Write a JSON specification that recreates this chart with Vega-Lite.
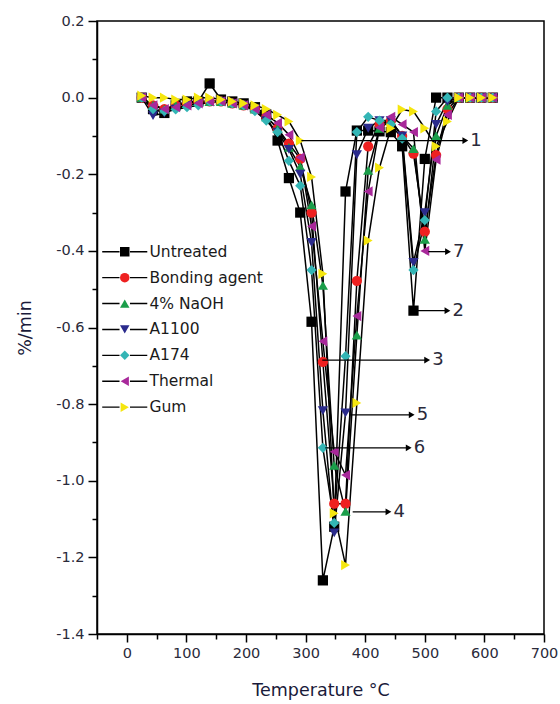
{
  "$schema": "https://vega.github.io/schema/vega-lite/v6.json",
  "width": 447,
  "height": 613,
  "autosize": {"type": "none"},
  "padding": {"left": 97, "top": 21, "right": 16, "bottom": 70},
  "background": "white",
  "config": {
    "view": {"stroke": "black", "strokeWidth": 1.5},
    "font": "DejaVu Sans",
    "axis": {"grid": false, "domainColor": "black", "domainWidth": 1.5, "tickColor": "black", "tickWidth": 1.5, "labelFontSize": 14.5, "labelColor": "#2a2a3a", "titleFontSize": 17.5, "titleFontWeight": "normal", "titleColor": "#1a1a3a"}
  },
  "datasets": {
    "dtg": [
      {"series":"Untreated","temperature":25,"rate":0},{"series":"Untreated","temperature":44,"rate":-0.03},{"series":"Untreated","temperature":63,"rate":-0.04},{"series":"Untreated","temperature":82,"rate":-0.02},{"series":"Untreated","temperature":101,"rate":-0.01},{"series":"Untreated","temperature":120,"rate":-0.01},{"series":"Untreated","temperature":139,"rate":0.037},{"series":"Untreated","temperature":158,"rate":-0.005},{"series":"Untreated","temperature":177,"rate":-0.01},{"series":"Untreated","temperature":196,"rate":-0.015},{"series":"Untreated","temperature":215,"rate":-0.025},{"series":"Untreated","temperature":234,"rate":-0.044},{"series":"Untreated","temperature":253,"rate":-0.112},{"series":"Untreated","temperature":272,"rate":-0.21},{"series":"Untreated","temperature":291,"rate":-0.3},{"series":"Untreated","temperature":310,"rate":-0.585},{"series":"Untreated","temperature":329,"rate":-1.26},{"series":"Untreated","temperature":348,"rate":-1.12},{"series":"Untreated","temperature":367,"rate":-0.245},{"series":"Untreated","temperature":386,"rate":-0.086},{"series":"Untreated","temperature":405,"rate":-0.086},{"series":"Untreated","temperature":424,"rate":-0.088},{"series":"Untreated","temperature":443,"rate":-0.09},{"series":"Untreated","temperature":462,"rate":-0.127},{"series":"Untreated","temperature":481,"rate":-0.556},{"series":"Untreated","temperature":500,"rate":-0.16},{"series":"Untreated","temperature":519,"rate":0},{"series":"Untreated","temperature":538,"rate":0},{"series":"Untreated","temperature":557,"rate":0},{"series":"Untreated","temperature":576,"rate":0},{"series":"Untreated","temperature":595,"rate":0},{"series":"Untreated","temperature":614,"rate":0},
      {"series":"Bonding agent","temperature":25,"rate":0},{"series":"Bonding agent","temperature":44,"rate":-0.02},{"series":"Bonding agent","temperature":63,"rate":-0.03},{"series":"Bonding agent","temperature":82,"rate":-0.02},{"series":"Bonding agent","temperature":101,"rate":-0.015},{"series":"Bonding agent","temperature":120,"rate":-0.01},{"series":"Bonding agent","temperature":139,"rate":-0.01},{"series":"Bonding agent","temperature":158,"rate":-0.01},{"series":"Bonding agent","temperature":177,"rate":-0.015},{"series":"Bonding agent","temperature":196,"rate":-0.02},{"series":"Bonding agent","temperature":215,"rate":-0.03},{"series":"Bonding agent","temperature":234,"rate":-0.05},{"series":"Bonding agent","temperature":253,"rate":-0.08},{"series":"Bonding agent","temperature":272,"rate":-0.12},{"series":"Bonding agent","temperature":291,"rate":-0.16},{"series":"Bonding agent","temperature":310,"rate":-0.3},{"series":"Bonding agent","temperature":329,"rate":-0.69},{"series":"Bonding agent","temperature":348,"rate":-1.06},{"series":"Bonding agent","temperature":367,"rate":-1.06},{"series":"Bonding agent","temperature":386,"rate":-0.478},{"series":"Bonding agent","temperature":405,"rate":-0.127},{"series":"Bonding agent","temperature":424,"rate":-0.07},{"series":"Bonding agent","temperature":443,"rate":-0.06},{"series":"Bonding agent","temperature":462,"rate":-0.1},{"series":"Bonding agent","temperature":481,"rate":-0.146},{"series":"Bonding agent","temperature":500,"rate":-0.35},{"series":"Bonding agent","temperature":519,"rate":-0.15},{"series":"Bonding agent","temperature":538,"rate":-0.03},{"series":"Bonding agent","temperature":557,"rate":0},{"series":"Bonding agent","temperature":576,"rate":0},{"series":"Bonding agent","temperature":595,"rate":0},{"series":"Bonding agent","temperature":614,"rate":0},
      {"series":"4% NaOH","temperature":25,"rate":0},{"series":"4% NaOH","temperature":44,"rate":-0.02},{"series":"4% NaOH","temperature":63,"rate":-0.03},{"series":"4% NaOH","temperature":82,"rate":-0.02},{"series":"4% NaOH","temperature":101,"rate":-0.015},{"series":"4% NaOH","temperature":120,"rate":-0.01},{"series":"4% NaOH","temperature":139,"rate":-0.01},{"series":"4% NaOH","temperature":158,"rate":-0.01},{"series":"4% NaOH","temperature":177,"rate":-0.015},{"series":"4% NaOH","temperature":196,"rate":-0.02},{"series":"4% NaOH","temperature":215,"rate":-0.03},{"series":"4% NaOH","temperature":234,"rate":-0.05},{"series":"4% NaOH","temperature":253,"rate":-0.08},{"series":"4% NaOH","temperature":272,"rate":-0.13},{"series":"4% NaOH","temperature":291,"rate":-0.18},{"series":"4% NaOH","temperature":310,"rate":-0.28},{"series":"4% NaOH","temperature":329,"rate":-0.49},{"series":"4% NaOH","temperature":348,"rate":-0.96},{"series":"4% NaOH","temperature":367,"rate":-1.08},{"series":"4% NaOH","temperature":386,"rate":-0.62},{"series":"4% NaOH","temperature":405,"rate":-0.19},{"series":"4% NaOH","temperature":424,"rate":-0.08},{"series":"4% NaOH","temperature":443,"rate":-0.06},{"series":"4% NaOH","temperature":462,"rate":-0.1},{"series":"4% NaOH","temperature":481,"rate":-0.133},{"series":"4% NaOH","temperature":500,"rate":-0.37},{"series":"4% NaOH","temperature":519,"rate":-0.1},{"series":"4% NaOH","temperature":538,"rate":-0.02},{"series":"4% NaOH","temperature":557,"rate":0},{"series":"4% NaOH","temperature":576,"rate":0},{"series":"4% NaOH","temperature":595,"rate":0},{"series":"4% NaOH","temperature":614,"rate":0},
      {"series":"A1100","temperature":25,"rate":0},{"series":"A1100","temperature":44,"rate":-0.047},{"series":"A1100","temperature":63,"rate":-0.04},{"series":"A1100","temperature":82,"rate":-0.03},{"series":"A1100","temperature":101,"rate":-0.02},{"series":"A1100","temperature":120,"rate":-0.015},{"series":"A1100","temperature":139,"rate":-0.01},{"series":"A1100","temperature":158,"rate":-0.01},{"series":"A1100","temperature":177,"rate":-0.015},{"series":"A1100","temperature":196,"rate":-0.02},{"series":"A1100","temperature":215,"rate":-0.03},{"series":"A1100","temperature":234,"rate":-0.06},{"series":"A1100","temperature":253,"rate":-0.09},{"series":"A1100","temperature":272,"rate":-0.135},{"series":"A1100","temperature":291,"rate":-0.2},{"series":"A1100","temperature":310,"rate":-0.378},{"series":"A1100","temperature":329,"rate":-0.817},{"series":"A1100","temperature":348,"rate":-1.136},{"series":"A1100","temperature":367,"rate":-0.823},{"series":"A1100","temperature":386,"rate":-0.149},{"series":"A1100","temperature":405,"rate":-0.08},{"series":"A1100","temperature":424,"rate":-0.06},{"series":"A1100","temperature":443,"rate":-0.06},{"series":"A1100","temperature":462,"rate":-0.1},{"series":"A1100","temperature":481,"rate":-0.43},{"series":"A1100","temperature":500,"rate":-0.3},{"series":"A1100","temperature":519,"rate":-0.07},{"series":"A1100","temperature":538,"rate":-0.01},{"series":"A1100","temperature":557,"rate":0},{"series":"A1100","temperature":576,"rate":0},{"series":"A1100","temperature":595,"rate":0},{"series":"A1100","temperature":614,"rate":0},
      {"series":"A174","temperature":25,"rate":0},{"series":"A174","temperature":44,"rate":-0.03},{"series":"A174","temperature":63,"rate":-0.035},{"series":"A174","temperature":82,"rate":-0.031},{"series":"A174","temperature":101,"rate":-0.025},{"series":"A174","temperature":120,"rate":-0.02},{"series":"A174","temperature":139,"rate":-0.01},{"series":"A174","temperature":158,"rate":-0.01},{"series":"A174","temperature":177,"rate":-0.015},{"series":"A174","temperature":196,"rate":-0.02},{"series":"A174","temperature":215,"rate":-0.035},{"series":"A174","temperature":234,"rate":-0.06},{"series":"A174","temperature":253,"rate":-0.09},{"series":"A174","temperature":272,"rate":-0.165},{"series":"A174","temperature":291,"rate":-0.23},{"series":"A174","temperature":310,"rate":-0.45},{"series":"A174","temperature":329,"rate":-0.914},{"series":"A174","temperature":348,"rate":-1.11},{"series":"A174","temperature":367,"rate":-0.675},{"series":"A174","temperature":386,"rate":-0.09},{"series":"A174","temperature":405,"rate":-0.05},{"series":"A174","temperature":424,"rate":-0.06},{"series":"A174","temperature":443,"rate":-0.07},{"series":"A174","temperature":462,"rate":-0.107},{"series":"A174","temperature":481,"rate":-0.45},{"series":"A174","temperature":500,"rate":-0.32},{"series":"A174","temperature":519,"rate":-0.036},{"series":"A174","temperature":538,"rate":0},{"series":"A174","temperature":557,"rate":0},{"series":"A174","temperature":576,"rate":0},{"series":"A174","temperature":595,"rate":0},{"series":"A174","temperature":614,"rate":0},
      {"series":"Thermal","temperature":25,"rate":0},{"series":"Thermal","temperature":44,"rate":-0.02},{"series":"Thermal","temperature":63,"rate":-0.03},{"series":"Thermal","temperature":82,"rate":-0.025},{"series":"Thermal","temperature":101,"rate":-0.02},{"series":"Thermal","temperature":120,"rate":-0.015},{"series":"Thermal","temperature":139,"rate":-0.01},{"series":"Thermal","temperature":158,"rate":-0.01},{"series":"Thermal","temperature":177,"rate":-0.015},{"series":"Thermal","temperature":196,"rate":-0.02},{"series":"Thermal","temperature":215,"rate":-0.03},{"series":"Thermal","temperature":234,"rate":-0.045},{"series":"Thermal","temperature":253,"rate":-0.066},{"series":"Thermal","temperature":272,"rate":-0.097},{"series":"Thermal","temperature":291,"rate":-0.156},{"series":"Thermal","temperature":310,"rate":-0.336},{"series":"Thermal","temperature":329,"rate":-0.636},{"series":"Thermal","temperature":348,"rate":-0.924},{"series":"Thermal","temperature":367,"rate":-0.985},{"series":"Thermal","temperature":386,"rate":-0.57},{"series":"Thermal","temperature":405,"rate":-0.245},{"series":"Thermal","temperature":424,"rate":-0.078},{"series":"Thermal","temperature":443,"rate":-0.05},{"series":"Thermal","temperature":462,"rate":-0.07},{"series":"Thermal","temperature":481,"rate":-0.09},{"series":"Thermal","temperature":500,"rate":-0.4},{"series":"Thermal","temperature":519,"rate":-0.162},{"series":"Thermal","temperature":538,"rate":-0.045},{"series":"Thermal","temperature":557,"rate":0},{"series":"Thermal","temperature":576,"rate":0},{"series":"Thermal","temperature":595,"rate":0},{"series":"Thermal","temperature":614,"rate":0},
      {"series":"Gum","temperature":25,"rate":0.005},{"series":"Gum","temperature":44,"rate":0},{"series":"Gum","temperature":63,"rate":0},{"series":"Gum","temperature":82,"rate":-0.005},{"series":"Gum","temperature":101,"rate":-0.005},{"series":"Gum","temperature":120,"rate":0},{"series":"Gum","temperature":139,"rate":0},{"series":"Gum","temperature":158,"rate":-0.005},{"series":"Gum","temperature":177,"rate":-0.01},{"series":"Gum","temperature":196,"rate":-0.015},{"series":"Gum","temperature":215,"rate":-0.02},{"series":"Gum","temperature":234,"rate":-0.03},{"series":"Gum","temperature":253,"rate":-0.045},{"series":"Gum","temperature":272,"rate":-0.062},{"series":"Gum","temperature":291,"rate":-0.112},{"series":"Gum","temperature":310,"rate":-0.207},{"series":"Gum","temperature":329,"rate":-0.46},{"series":"Gum","temperature":348,"rate":-1.085},{"series":"Gum","temperature":367,"rate":-1.22},{"series":"Gum","temperature":386,"rate":-0.797},{"series":"Gum","temperature":405,"rate":-0.373},{"series":"Gum","temperature":424,"rate":-0.183},{"series":"Gum","temperature":443,"rate":-0.08},{"series":"Gum","temperature":462,"rate":-0.031},{"series":"Gum","temperature":481,"rate":-0.036},{"series":"Gum","temperature":500,"rate":-0.08},{"series":"Gum","temperature":519,"rate":-0.127},{"series":"Gum","temperature":538,"rate":-0.062},{"series":"Gum","temperature":557,"rate":0},{"series":"Gum","temperature":576,"rate":0},{"series":"Gum","temperature":595,"rate":0},{"series":"Gum","temperature":614,"rate":0}
    ],
    "arrows": [
      {"label":"1","from":293,"to":568,"rate":-0.112},
      {"label":"2","from":481,"to":538,"rate":-0.556},
      {"label":"3","from":328,"to":504,"rate":-0.685},
      {"label":"4","from":379,"to":439,"rate":-1.081},
      {"label":"5","from":375,"to":478,"rate":-0.828},
      {"label":"6","from":333,"to":473,"rate":-0.914},
      {"label":"7","from":506,"to":539,"rate":-0.402}
    ]
  },
  "layer": [
    {
      "data": {"name": "dtg"},
      "mark": {"type": "line", "strokeWidth": 1.5},
      "encoding": {
        "x": {"field": "temperature", "type": "quantitative", "title": "Temperature °C",
          "scale": {"domain": [-50, 700], "nice": false, "zero": false},
          "axis": {"values": [-50,0,50,100,150,200,250,300,350,400,450,500,550,600,650,700], "tickCount": 40,
            "labelExpr": "(datum.value % 100 == 0) ? format(datum.value, 'd') : ''",
            "tickSize": {"condition": {"test": "datum.value % 100 == 0", "value": 8}, "value": 5},
            "labelPadding": 4, "titlePadding": 22, "labelOverlap": false, "labelFlush": false}},
        "y": {"field": "rate", "type": "quantitative", "title": "%/min",
          "scale": {"domain": [-1.4, 0.2], "nice": false, "zero": false},
          "axis": {"values": [-1.4,-1.3,-1.2,-1.1,-1.0,-0.9,-0.8,-0.7,-0.6,-0.5,-0.4,-0.3,-0.2,-0.1,0,0.1,0.2], "tickCount": 40,
            "labelExpr": "round(datum.value*10) % 2 === 0 ? (datum.value < -0.001 ? '-' : '') + format(abs(datum.value), '.1f') : ''",
            "tickSize": {"condition": {"test": "round(datum.value*10) % 2 === 0", "value": 9}, "value": 5},
            "labelPadding": 4, "titlePadding": 21, "labelOverlap": false}},
        "stroke": {"field": "series", "type": "nominal",
          "scale": {"domain": ["Untreated","Bonding agent","4% NaOH","A1100","A174","Thermal","Gum"], "range": ["#000","#000","#000","#000","#000","#000","#000"]},
          "legend": {"title": null, "orient": "none", "legendX": 20, "legendY": 223, "padding": 0, "zindex": 0,
            "labelFontSize": 15.5, "labelColor": "transparent", "labelOffset": 17, "rowPadding": 8.9, "labelLimit": 300,
            "symbolType": "M-4.75,0H-1.1M1.1,0H4.75", "symbolSize": 90, "symbolStrokeWidth": 1.4, "symbolFillColor": "transparent"}}
      }
    },
    {
      "data": {"name": "dtg"},
      "mark": {"type": "point", "filled": true, "size": 105, "opacity": 1},
      "encoding": {
        "x": {"field": "temperature", "type": "quantitative", "title": "Temperature °C"},
        "y": {"field": "rate", "type": "quantitative", "title": "%/min"},
        "color": {"field": "series", "type": "nominal",
          "sort": ["Untreated","Bonding agent","4% NaOH","A1100","A174","Thermal","Gum"],
          "scale": {"range": ["#000000","#ee2020","#1a9e4a","#2b2b8c","#33b5b5","#a8289a","#f5e60f"]},
          "legend": {"title": null, "orient": "none", "legendX": 20, "legendY": 223, "padding": 0, "zindex": 2,
            "labelFontSize": 15.5, "labelColor": "#1a1a1a", "labelOffset": 17, "rowPadding": 8.9, "labelLimit": 300,
            "symbolSize": 90, "symbolOpacity": 1, "symbolStrokeWidth": 0,
            "encode": {"symbols": {"update": {
              "shape": {"scale": "shape", "field": "value"},
              "fill": {"scale": "color", "field": "value"},
              "stroke": {"value": "transparent"},
              "opacity": {"value": 1}}}}}},
        "shape": {"field": "series", "type": "nominal",
          "sort": ["Untreated","Bonding agent","4% NaOH","A1100","A174","Thermal","Gum"],
          "scale": {"range": ["square","circle","triangle-up","triangle-down","diamond","triangle-left","triangle-right"]},
          "legend": null}
      }
    },
    {
      "data": {"name": "arrows"},
      "mark": {"type": "rule", "color": "black", "strokeWidth": 1.3},
      "encoding": {
        "x": {"field": "from", "type": "quantitative", "title": "Temperature °C"},
        "x2": {"field": "to"},
        "y": {"field": "rate", "type": "quantitative", "title": "%/min"}
      }
    },
    {
      "data": {"name": "arrows"},
      "mark": {"type": "point", "shape": "triangle-right", "filled": true, "color": "black", "opacity": 1, "size": 45},
      "encoding": {
        "x": {"field": "to", "type": "quantitative", "title": "Temperature °C"},
        "y": {"field": "rate", "type": "quantitative", "title": "%/min"}
      }
    },
    {
      "data": {"name": "arrows"},
      "mark": {"type": "text", "align": "left", "baseline": "middle", "dx": 5, "fontSize": 18, "color": "#2a2a3a"},
      "encoding": {
        "x": {"field": "to", "type": "quantitative", "title": "Temperature °C"},
        "y": {"field": "rate", "type": "quantitative", "title": "%/min"},
        "text": {"field": "label"}
      }
    }
  ]
}
